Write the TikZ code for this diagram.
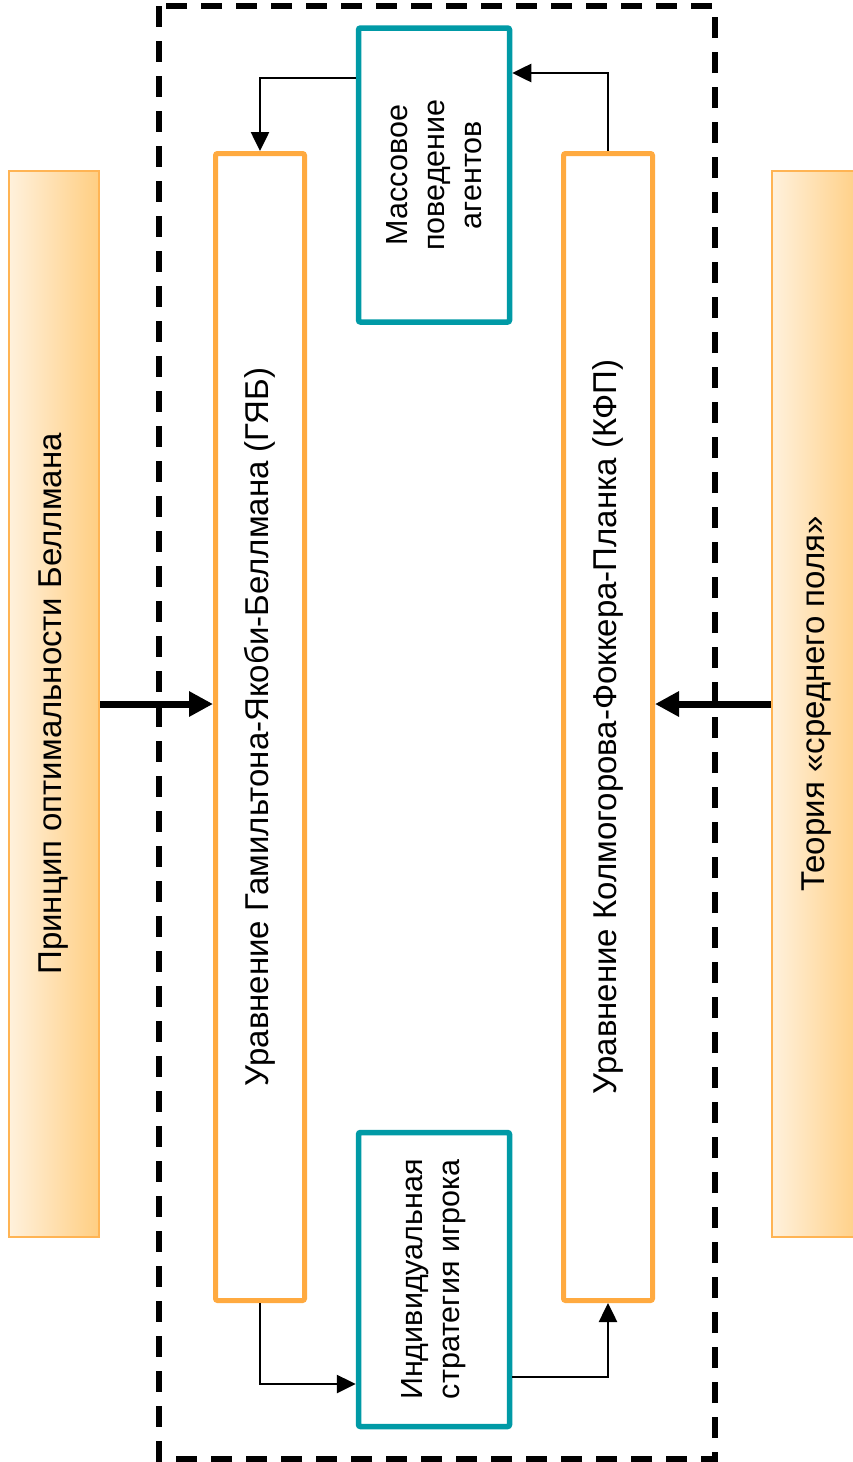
\documentclass[tikz,border=0pt]{standalone}
\usepackage{fontspec}
\setmainfont{Liberation Sans}
\usetikzlibrary{arrows.meta}
\definecolor{tealc}{RGB}{0,154,166}
\definecolor{orst}{RGB}{255,170,64}
\definecolor{barst}{RGB}{255,180,84}
\definecolor{barl}{RGB}{255,241,220}
\definecolor{barr}{RGB}{255,206,130}
\begin{document}
\begin{tikzpicture}[x=1pt,y=-1pt,
  bar/.style={draw=barst, line width=2pt, left color=barl, right color=barr, minimum width=90pt, minimum height=1066pt, inner sep=0pt},
  eqbox/.style={draw=orst, line width=5pt, rounded corners=2pt, fill=white, minimum width=89pt, minimum height=1147pt, inner sep=0pt},
  tealbox/.style={draw=tealc, line width=5.5pt, rounded corners=2pt, fill=white, minimum width=151pt, minimum height=294pt, inner sep=0pt},
  txt/.style={rotate=90, align=center, font=\fontsize{33}{38}\selectfont},
  stxt/.style={rotate=90, align=center, font=\fontsize{30.5}{37}\selectfont},
  thinarr/.style={draw=black, line width=2.6pt, -{Triangle[length=19pt,width=18pt]}},
  thickarr/.style={draw=black, line width=7pt, -{Triangle[length=24pt,width=24pt]}},
  frame/.style={draw=black, line width=5.5pt, dash pattern=on 21pt off 14pt}
]
\useasboundingbox (0,0) rectangle (853,1462);
\fill[white] (0,0) rectangle (853,1462);

\node[bar] (bell) at (54,704) {};
\node[txt] at (bell.center) {Принцип оптимальности Беллмана};
\node[bar] (mfg) at (817,704) {};
\node[txt] at (mfg.center) {Теория «среднего поля»};

\draw[frame] (159,6) rectangle (715,1459);

\node[eqbox] (hjb) at (260,727) {};
\node[txt] at (hjb.center) {Уравнение Гамильтона-Якоби-Беллмана (ГЯБ)};
\node[eqbox] (fpk) at (608,727) {};
\node[txt] at (fpk.center) {Уравнение Колмогорова-Фоккера-Планка (КФП)};

\node[tealbox] (mass) at (434,175) {};
\node[stxt] at (mass.center) {Массовое\\поведение\\агентов};
\node[tealbox] (ind) at (434,1279.5) {};
\node[stxt] at (ind.center) {Индивидуальная\\стратегия игрока};

\draw[thickarr] (bell.east) -- (hjb.west |- bell.east);
\draw[thickarr] (mfg.west) -- (fpk.east |- mfg.west);

\draw[thinarr] (mass.west |- 0,78) -| (hjb.north);
\draw[thinarr] (fpk.north) |- (mass.east |- 0,73);
\draw[thinarr] (hjb.south) |- (ind.west |- 0,1384);
\draw[thinarr] (ind.east |- 0,1377) -| (fpk.south);
\end{tikzpicture}
\end{document}
